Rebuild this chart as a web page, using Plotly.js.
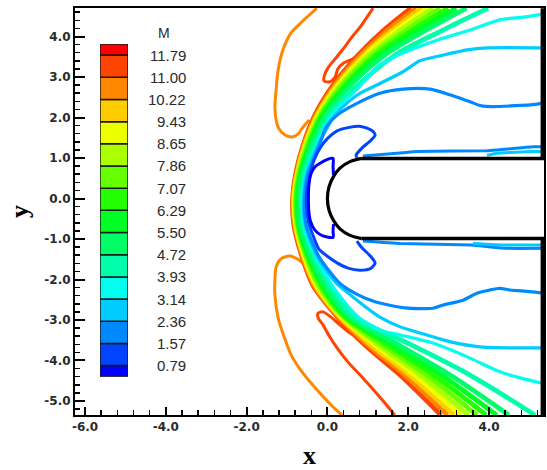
<!DOCTYPE html>
<html><head><meta charset="utf-8">
<script src="https://cdn.plot.ly/plotly-3.0.1.min.js"></script>
<style>html,body{margin:0;padding:0;background:#fff}#chart{width:547px;height:470px}</style>
</head><body><div id="chart"></div>
<script>
// ---- contour levels / legend ----
const LEVELS = ['0.79','1.57','2.36','3.14','3.93','4.72','5.50','6.29','7.07','7.86','8.65','9.43','10.22','11.00','11.79'];
const LINE_COLORS = {'0.79':'#0000ff','1.57':'#0044ff','2.36':'#0088ff','3.14':'#00ccff','3.93':'#00ffee','4.72':'#00ffaa','5.50':'#00ff66','6.29':'#00ff22','7.07':'#22ff00','7.86':'#66ff00','8.65':'#aaff00','9.43':'#eeff00','10.22':'#ffcc00','11.00':'#ff8800','11.79':'#ff4400'};
const BOX_COLORS = ['#0000ff','#0044ff','#0088ff','#00ccff','#00ffee','#00ffaa','#00ff66','#00ff22','#22ff00','#66ff00','#aaff00','#eeff00','#ffcc00','#ff8800','#ff4400','#ff0000'];
const X_TICKS = [-6,-4,-2,0,2,4];
const X_TICK_LABELS = ['-6.0','-4.0','-2.0','0.0','2.0','4.0'];
const Y_TICKS = [-5,-4,-3,-2,-1,0,1,2,3,4];
const Y_TICK_LABELS = ['-5.0','-4.0','-3.0','-2.0','-1.0','0.0','1.0','2.0','3.0','4.0'];

// ---- shock band lines (sampled on common y rows) ----
const BAND_Y = [4.70,4.16,3.54,2.80,2.06,1.32,0.58,0.00,-0.65,-1.40,-2.14,-2.88,-3.62,-4.36,-5.35];
const BAND_1179 = [2.07,1.40,0.76,0.14,-0.31,-0.60,-0.79,-0.86,-0.83,-0.64,-0.36,0.21,0.93,1.80,2.81];
const BAND_1100 = [2.20,1.50,0.82,0.18,-0.28,-0.58,-0.77,-0.85,-0.81,-0.62,-0.33,0.24,1.01,1.92,2.98];
const BAND_1022 = [2.34,1.61,0.89,0.23,-0.25,-0.56,-0.76,-0.83,-0.79,-0.60,-0.30,0.27,1.09,2.04,3.14];
const BAND_943  = [2.47,1.71,0.95,0.27,-0.23,-0.54,-0.74,-0.82,-0.78,-0.58,-0.27,0.30,1.18,2.16,3.30];
const BAND_865  = [2.62,1.82,1.02,0.32,-0.20,-0.52,-0.73,-0.80,-0.76,-0.55,-0.24,0.33,1.27,2.30,3.49];
const BAND_786  = [2.79,1.96,1.11,0.37,-0.17,-0.49,-0.71,-0.78,-0.74,-0.53,-0.20,0.36,1.37,2.46,3.70];
const BAND_707  = [2.99,2.10,1.20,0.44,-0.13,-0.46,-0.68,-0.76,-0.72,-0.50,-0.15,0.40,1.49,2.63,3.93];
const BAND_629  = [3.19,2.26,1.30,0.50,-0.09,-0.43,-0.66,-0.73,-0.70,-0.47,-0.11,0.44,1.62,2.82,4.19];
const BAND_550  = [3.44,2.45,1.42,0.58,-0.04,-0.39,-0.63,-0.70,-0.67,-0.43,-0.05,0.50,1.77,3.04,4.49];
const BAND_472  = [3.98,2.86,1.67,0.76,0.06,-0.31,-0.57,-0.64,-0.60,-0.34,0.06,0.61,2.09,3.53,5.14];

// ---- lines leaving the band ----
const L393_X = [5.36,4.94,4.27,3.53,2.71,1.87,1.23,0.83,0.11,-0.27,-0.54,-0.62,-0.58,-0.31,0.11,0.71,1.30,1.80,2.61,3.46,4.27,4.77,5.36];
const L393_Y = [4.56,4.49,4.41,4.16,3.91,3.59,3.26,2.80,2.06,1.32,0.58,0.00,-0.65,-1.40,-2.14,-2.88,-3.25,-3.37,-3.57,-3.91,-4.28,-4.43,-4.57];
const L314_X = [5.36,3.95,3.46,2.86,2.29,1.87,1.30,0.81,0.51,0.19,-0.23,-0.52,-0.59,-0.55,-0.27,0.19,0.63,1.30,1.80,2.29,2.86,3.28,3.85,5.36];
const L314_Y = [3.72,3.72,3.67,3.54,3.40,3.13,2.84,2.60,2.38,2.06,1.32,0.58,0.00,-0.65,-1.40,-2.06,-2.43,-2.93,-3.17,-3.32,-3.49,-3.59,-3.67,-3.69];
const L236_X = [5.36,5.19,3.85,3.53,3.03,2.54,1.87,1.30,0.73,0.24,-0.03,-0.20,-0.49,-0.57,-0.53,-0.23,0.06,0.31,0.76,1.18,1.92,2.61,2.86,3.36,3.70,4.02,4.27,4.52,5.01,5.36];
const L236_Y = [2.37,2.33,2.28,2.39,2.56,2.70,2.70,2.60,2.35,2.06,1.77,1.32,0.58,0.00,-0.65,-1.40,-1.81,-2.10,-2.38,-2.55,-2.70,-2.71,-2.63,-2.51,-2.34,-2.26,-2.22,-2.26,-2.30,-2.34];
const L157_X = [0.73,0.71,0.86,1.08,1.18,1.08,0.83,0.51,0.24,0.01,-0.18,-0.33,-0.43,-0.52,-0.47,-0.33,-0.21,-0.01,0.24,0.51,0.81,1.08,1.18,1.08,0.86,0.73];
const L157_Y = [1.01,1.07,1.25,1.44,1.57,1.69,1.78,1.75,1.67,1.49,1.25,0.95,0.58,0.00,-0.58,-0.98,-1.25,-1.42,-1.59,-1.72,-1.77,-1.72,-1.59,-1.44,-1.22,-1.05];
const L079_X = [0.15,0.14,0.14,-0.01,-0.18,-0.31,-0.41,-0.46,-0.47,-0.46,-0.42,-0.31,-0.16,-0.01,0.14,0.14,0.15];
const L079_Y = [0.58,0.80,0.99,0.96,0.87,0.78,0.60,0.31,0.00,-0.31,-0.56,-0.78,-0.90,-0.95,-0.96,-0.80,-0.63];

// ---- lines hugging the body walls ----
const W236U_X = [0.88,1.87,2.22,3.95,4.20,5.09,5.36];
const W236U_Y = [1.05,1.13,1.16,1.18,1.20,1.28,1.28];
const W314U_X = [3.95,4.20,5.09,5.36];
const W314U_Y = [1.07,1.12,1.16,1.16];
const W236L_X = [0.88,1.80,3.57,4.44,5.36];
const W236L_Y = [-1.05,-1.11,-1.15,-1.23,-1.23];
const W314L_X = [3.60,4.42,5.36];
const W314L_Y = [-1.11,-1.15,-1.15];

// ---- loops ahead of the shock ----
const LOOP1179U_X = [1.13,0.98,0.81,0.61,0.41,0.21,0.01,-0.08,-0.08,0.06,0.19,0.26,0.41,0.61,0.76];
const LOOP1179U_Y = [4.70,4.48,4.23,3.99,3.72,3.47,3.22,3.02,2.90,2.88,3.00,3.20,3.35,3.44,3.54];
const LOOP1179L_X = [0.86,0.56,0.31,0.09,-0.11,-0.23,-0.23,-0.11,0.06,0.26,0.51,0.81,1.10,1.38,1.67];
const LOOP1179L_Y = [-3.49,-3.32,-3.12,-2.93,-2.80,-2.83,-2.95,-3.12,-3.42,-3.72,-4.04,-4.36,-4.68,-5.00,-5.35];
const LOOP1100U_X = [-0.26,-0.58,-0.90,-1.10,-1.22,-1.27,-1.30,-1.27,-1.20,-1.05,-0.88,-0.73,-0.60,-0.45];
const LOOP1100U_Y = [4.70,4.41,4.09,3.67,3.17,2.68,2.26,1.94,1.72,1.57,1.52,1.59,1.77,1.94];
const LOOP1100L_X = [-0.60,-0.78,-0.95,-1.15,-1.27,-1.30,-1.30,-1.22,-1.07,-0.90,-0.63,-0.28,0.09,0.36];
const LOOP1100L_Y = [-1.59,-1.47,-1.42,-1.49,-1.69,-2.01,-2.38,-2.95,-3.42,-3.86,-4.28,-4.70,-5.10,-5.35];

// ---- body outline ----
const BODY_TOP_X = [5.32,5.32,0.85];
const BODY_TOP_Y = [4.70,0.99,0.99];
const NOSE_X = [0.85,0.56,0.31,0.15,0.04,0.00,0.04,0.15,0.31,0.56,0.85];
const NOSE_Y = [0.99,0.91,0.75,0.54,0.29,0.00,-0.29,-0.54,-0.75,-0.91,-0.99];
const BODY_BOT_X = [0.85,5.32,5.32];
const BODY_BOT_Y = [-0.99,-0.99,-5.35];

function ln(x, y, level, smooth, w) {
  return {type:'scatter', mode:'lines', x:x, y:y, hoverinfo:'skip', showlegend:false,
          line:{color:LINE_COLORS[level], width:w, shape:'spline', smoothing:smooth}};
}
const traces = [];
traces.push(ln(LOOP1100U_X, LOOP1100U_Y, '11.00', 0.7, 3));
traces.push(ln(LOOP1100L_X, LOOP1100L_Y, '11.00', 0.7, 3));
traces.push(ln(LOOP1179U_X, LOOP1179U_Y, '11.79', 0.7, 3));
traces.push(ln(LOOP1179L_X, LOOP1179L_Y, '11.79', 0.7, 3));
const bands = [[BAND_1179,'11.79'],[BAND_1100,'11.00'],[BAND_1022,'10.22'],[BAND_943,'9.43'],[BAND_865,'8.65'],
               [BAND_786,'7.86'],[BAND_707,'7.07'],[BAND_629,'6.29'],[BAND_550,'5.50'],[BAND_472,'4.72']];
bands.forEach(b => traces.push(ln(b[0], BAND_Y, b[1], 0.9, 4.8)));
traces.push(ln(L393_X, L393_Y, '3.93', 0.7, 3.2));
traces.push(ln(L314_X, L314_Y, '3.14', 0.7, 3.2));
traces.push(ln(L236_X, L236_Y, '2.36', 0.7, 3.2));
traces.push(ln(W236U_X, W236U_Y, '2.36', 0.3, 3));
traces.push(ln(W314U_X, W314U_Y, '3.14', 0.3, 3));
traces.push(ln(W236L_X, W236L_Y, '2.36', 0.3, 3));
traces.push(ln(W314L_X, W314L_Y, '3.14', 0.3, 3));
traces.push(ln(L157_X, L157_Y, '1.57', 0.7, 3));
traces.push(ln(L079_X, L079_Y, '0.79', 0.7, 3));
const blk = (x,y,shape,w) => ({type:'scatter', mode:'lines', x:x, y:y, hoverinfo:'skip', showlegend:false,
          line:{color:'#000', width:w, shape:shape, smoothing:1}});
traces.push(blk(BODY_TOP_X, BODY_TOP_Y, 'linear', 3.5));
traces.push(blk(BODY_BOT_X, BODY_BOT_Y, 'linear', 3.5));
traces.push(blk(NOSE_X, NOSE_Y, 'spline', 3.2));

// legend colour boxes (stacked, half boxes at both ends)
const boxH = BOX_COLORS.map((c,i) => (i === 0 || i === BOX_COLORS.length-1) ? 0.5 : 1);
const boxBase = boxH.map((h,i) => boxH.slice(0,i).reduce((a,b)=>a+b,0));
traces.push({type:'bar', x:BOX_COLORS.map(()=>0), y:boxH, base:boxBase, width:1,
  marker:{color:BOX_COLORS, line:{color:'#1a1a1a', width:1.5}}, xaxis:'x2', yaxis:'y2',
  hoverinfo:'skip', showlegend:false});

const annotations = LEVELS.map((lv,i) => ({xref:'paper', yref:'y2', x:0.2409, y:0.5+i, text:lv,
  xanchor:'right', yanchor:'middle', showarrow:false,
  font:{family:'Liberation Sans, Arial, sans-serif', size:15, color:'#2a2a2a'}}));
annotations.push({xref:'paper', yref:'paper', x:0.1887, y:0.9386, text:'M', showarrow:false,
  xanchor:'center', yanchor:'middle', font:{family:'Liberation Sans, Arial, sans-serif', size:14, color:'#2a2a2a'}});

const tickFont = {family:'DejaVu Sans, Verdana, sans-serif', size:12, weight:'bold', color:'#2a2a2a'};
const titleFont = {family:'Liberation Serif, Times New Roman, serif', size:26, weight:'bold', color:'#000'};
const layout = {
  width:547, height:470, margin:{l:75, r:3, t:8, b:55},
  paper_bgcolor:'#fff', plot_bgcolor:'#fff', showlegend:false, barmode:'overlay',
  xaxis:{range:[-6.248,5.361], tickmode:'array', tickvals:X_TICKS, ticktext:X_TICK_LABELS,
    ticks:'inside', ticklen:8, tickwidth:2, tickcolor:'#000',
    minor:{tickmode:'linear', tick0:-6, dtick:0.4, ticks:'inside', ticklen:5, tickwidth:1.5, tickcolor:'#000'},
    showline:true, linecolor:'#000', linewidth:2, mirror:true, showgrid:false, zeroline:false,
    tickfont:tickFont, title:{text:'x', font:titleFont, standoff:12}},
  yaxis:{range:[-5.346,4.704], tickmode:'array', tickvals:Y_TICKS, ticktext:Y_TICK_LABELS,
    ticks:'inside', ticklen:10, tickwidth:2, tickcolor:'#000',
    minor:{tickmode:'linear', tick0:0, dtick:0.2, ticks:'inside', ticklen:5, tickwidth:1.5, tickcolor:'#000'},
    showline:true, linecolor:'#000', linewidth:2, mirror:true, showgrid:false, zeroline:false,
    tickfont:tickFont, title:{text:'y', font:titleFont, standoff:8}},
  xaxis2:{domain:[0.0533,0.113], range:[-0.5,0.5], visible:false, anchor:'y2', fixedrange:true},
  yaxis2:{domain:[0.0941,0.9115], range:[0,15], visible:false, anchor:'x2', fixedrange:true},
  annotations:annotations
};
Plotly.newPlot('chart', traces, layout, {displayModeBar:false, staticPlot:true});
</script>
</body></html>
